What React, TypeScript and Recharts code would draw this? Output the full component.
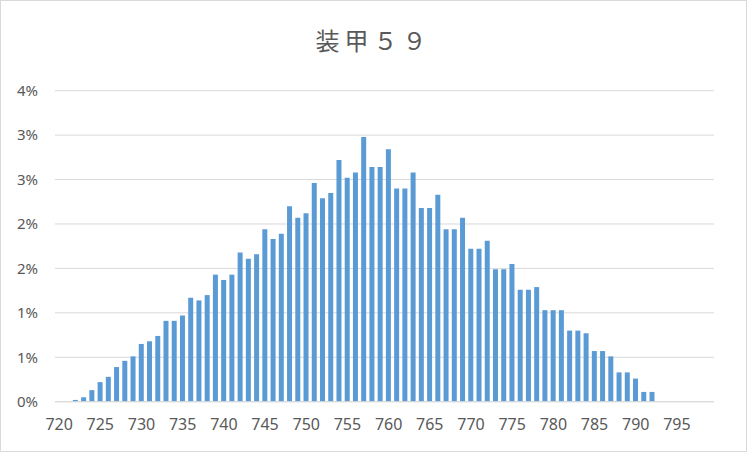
import { Bar, BarChart, CartesianGrid, XAxis, YAxis } from "recharts";

const TITLE = "装甲５９";

// armour value buckets 720..799
const armour = [
  720, 721, 722, 723, 724, 725, 726, 727, 728, 729,
  730, 731, 732, 733, 734, 735, 736, 737, 738, 739,
  740, 741, 742, 743, 744, 745, 746, 747, 748, 749,
  750, 751, 752, 753, 754, 755, 756, 757, 758, 759,
  760, 761, 762, 763, 764, 765, 766, 767, 768, 769,
  770, 771, 772, 773, 774, 775, 776, 777, 778, 779,
  780, 781, 782, 783, 784, 785, 786, 787, 788, 789,
  790, 791, 792, 793, 794, 795, 796, 797, 798, 799,
];

// share of samples, in percent
const share = [
  0, 0, 0.02, 0.05, 0.13, 0.22, 0.28, 0.39, 0.46, 0.51,
  0.65, 0.68, 0.74, 0.91, 0.91, 0.97, 1.17, 1.14, 1.2, 1.43,
  1.37, 1.43, 1.68, 1.61, 1.66, 1.94, 1.83, 1.89, 2.2, 2.07,
  2.12, 2.46, 2.29, 2.35, 2.72, 2.52, 2.58, 2.98, 2.64, 2.64,
  2.84, 2.4, 2.4, 2.58, 2.18, 2.18, 2.33, 1.94, 1.94, 2.07,
  1.72, 1.72, 1.81, 1.49, 1.49, 1.55, 1.26, 1.26, 1.29, 1.03,
  1.03, 1.03, 0.8, 0.8, 0.77, 0.57, 0.57, 0.51, 0.33, 0.33,
  0.26, 0.11, 0.11, 0, 0, 0, 0, 0, 0, 0,
];

const yTicks = [0, 0.5, 1, 1.5, 2, 2.5, 3, 3.5];

const data = armour.map((a, i) => ({ armour: a, share: share[i] }));

const TEXT = "#595959";
const GRID = "#D9D9D9";
const FONT = '"Noto Sans", "Open Sans", sans-serif';

export default function App() {
  return (
    <div style={{ position: "fixed", left: 0, top: 0, width: 747, height: 452, background: "#fff" }}>
      <div
        style={{
          position: "absolute",
          inset: 0,
          border: `1px solid ${GRID}`,
          pointerEvents: "none",
        }}
      />
      <div
        style={{
          position: "absolute",
          left: 0,
          top: 26,
          width: 747,
          textAlign: "center",
          fontFamily: '"Noto Sans CJK JP", sans-serif',
          fontSize: 24,
          lineHeight: "28px",
          letterSpacing: 5,
          color: TEXT,
        }}
      >
        {TITLE}
      </div>
      <div style={{ position: "absolute", left: 0, top: 0 }}>
        <BarChart
          width={747}
          height={452}
          data={data}
          margin={{ top: 90.7, right: 33, bottom: 20.3, left: 0 }}
          barCategoryGap="17%"
          style={{ fontFamily: FONT }}
        >
          <CartesianGrid vertical={false} stroke={GRID} strokeWidth={1} />
          <XAxis
            dataKey="armour"
            interval={4}
            tickLine={false}
            tickMargin={11}
            axisLine={{ stroke: GRID }}
            tick={{ fontSize: 16, fill: TEXT }}
          />
          <YAxis
            width={55}
            domain={[0, 3.5]}
            ticks={yTicks}
            tickFormatter={(v) => `${Math.round(v)}%`}
            axisLine={false}
            tickLine={false}
            tickMargin={11}
            tick={{ fontSize: 15, fill: TEXT }}
          />
          <Bar dataKey="share" fill="#5B9BD5" isAnimationActive={false} />
        </BarChart>
      </div>
    </div>
  );
}
